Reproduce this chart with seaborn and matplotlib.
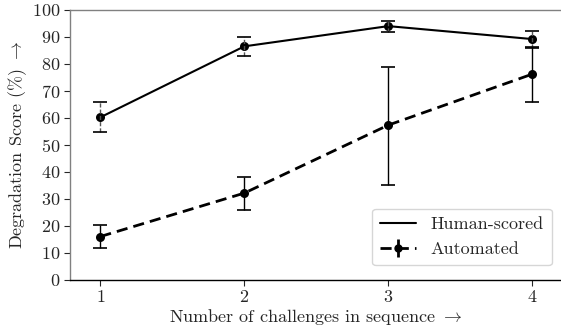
import numpy as np
import pandas as pd
import matplotlib
matplotlib.use("Agg")
import matplotlib.pyplot as plt
import seaborn as sns
from matplotlib.lines import Line2D

# ---- data ----
challenges = [1, 2, 3, 4]
human_mean = [60.2, 86.5, 94.0, 89.2]
human_low = [54.6, 83.1, 91.9, 86.0]
human_high = [65.8, 89.9, 95.8, 92.2]
auto_mean = [16.0, 32.1, 57.3, 76.2]
auto_low = [11.8, 26.0, 35.2, 66.0]
auto_high = [20.2, 37.9, 79.0, 86.2]
yticks = list(range(0, 101, 10))

sns.set_style("ticks")
plt.rcParams['font.family'] = ['serif']
plt.rcParams['font.serif'] = ['cmr10', 'DejaVu Serif']
plt.rcParams['mathtext.fontset'] = 'cm'
plt.rcParams['axes.formatter.use_mathtext'] = True
plt.rcParams['axes.unicode_minus'] = False

fig, ax = plt.subplots(figsize=(5.61, 3.31), dpi=100)
fig.subplots_adjust(left=0.125, right=1.0, top=0.97, bottom=0.155)

df_h = pd.DataFrame({"x": challenges, "y": human_mean})
df_a = pd.DataFrame({"x": challenges, "y": auto_mean})

sns.lineplot(data=df_h, x="x", y="y", ax=ax, color="black", lw=1.5,
             marker="o", markersize=6.5, markeredgewidth=0, legend=False)
sns.lineplot(data=df_a, x="x", y="y", ax=ax, color="black", lw=2.0,
             linestyle=(0, (4, 2.2)), marker="o", markersize=6.5,
             markeredgewidth=0, legend=False)

hm = np.array(human_mean); am = np.array(auto_mean)
eh = ax.errorbar(challenges, hm, yerr=[hm - np.array(human_low), np.array(human_high) - hm],
                 fmt="none", ecolor="black", elinewidth=1.0, capsize=5, capthick=1.2)
for c in eh[2]:
    c.set_color("#555555")
    c.set_linestyle((0, (3, 1.5)))
ea = ax.errorbar(challenges, am, yerr=[am - np.array(auto_low), np.array(auto_high) - am],
                 fmt="none", ecolor="black", elinewidth=1.0, capsize=5, capthick=1.2)

ax.set_xlim(0.79, 4.2)
ax.set_ylim(0, 100)
ax.set_xticks(challenges)
ax.set_yticks(yticks)
ax.tick_params(labelsize=13, length=4, width=0.8, pad=3)
ax.set_xlabel(r"Number of challenges in sequence $\rightarrow$", fontsize=13, labelpad=1)
ax.set_ylabel(r"Degradation Score (%) $\rightarrow$", fontsize=13, labelpad=2)

ax.spines['right'].set_visible(False)
ax.spines['top'].set_color('#808080')
ax.spines['left'].set_color('#808080')
ax.spines['bottom'].set_color('black')
for s in ax.spines.values():
    s.set_linewidth(1.0)

h_handle = Line2D([], [], color="black", lw=1.5)
a_handle = ax.errorbar([], [], yerr=[], fmt="o", linestyle=(0, (4, 2.2)), color="black",
                       lw=2.0, markersize=5, capsize=3)
leg = ax.legend([h_handle, a_handle], ["Human-scored", "Automated"], loc="lower right",
                fontsize=13, frameon=True, fancybox=True, framealpha=0.8,
                edgecolor="#cccccc", handlelength=2.0, borderpad=0.45,
                bbox_to_anchor=(1.0, 0.02))

fig.savefig("out.png", dpi=100)
